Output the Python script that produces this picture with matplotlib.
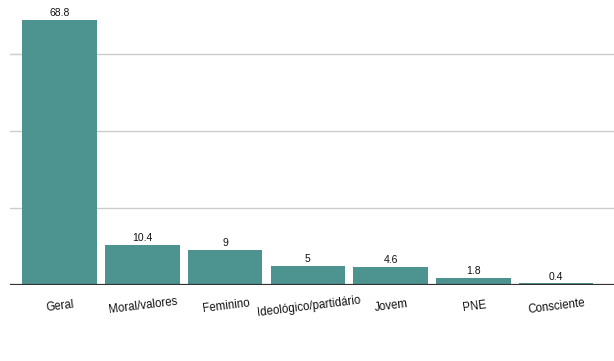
import numpy as np
import matplotlib.pyplot as plt

plt.rcParams['font.family'] = ['Liberation Sans', 'DejaVu Sans']

categories = ["Geral", "Moral/valores", "Feminino", "Ideológico/partidário",
              "Jovem", "PNE", "Consciente"]
values = [68.8, 10.4, 9, 5, 4.6, 1.8, 0.4]
labels = ["68.8", "10.4", "9", "5", "4.6", "1.8", "0.4"]

fig = plt.figure(figsize=(6.14, 3.61), dpi=100)
ax = fig.add_axes([10 / 614, 76 / 361, 604 / 614, 285 / 361])

x = np.arange(len(categories))
ax.bar(x, values, width=0.9, color="#4d9491", zorder=2)

for xi, v, lab in zip(x, values, labels):
    ax.text(xi, v + 0.5, lab, ha="center", va="bottom", fontsize=7.5, color="#111111")

ax.set_xlim(-0.6, 6.7)
ax.set_ylim(0, 74)
ax.set_yticks([20, 40, 60])
ax.set_yticklabels([])
ax.tick_params(axis="y", length=0)
ax.grid(axis="y", color="#cccccc", linewidth=1, zorder=1)
ax.axhline(0, color="#333333", linewidth=1.6, zorder=3)

ax.set_xticks(x)
ax.set_xticklabels(categories, rotation=7, fontsize=8.3, color="#111111",
                   rotation_mode="anchor", ha="center")
ax.tick_params(axis="x", length=0, pad=11)

for s in ax.spines.values():
    s.set_visible(False)

fig.savefig("out.png", dpi=100)
